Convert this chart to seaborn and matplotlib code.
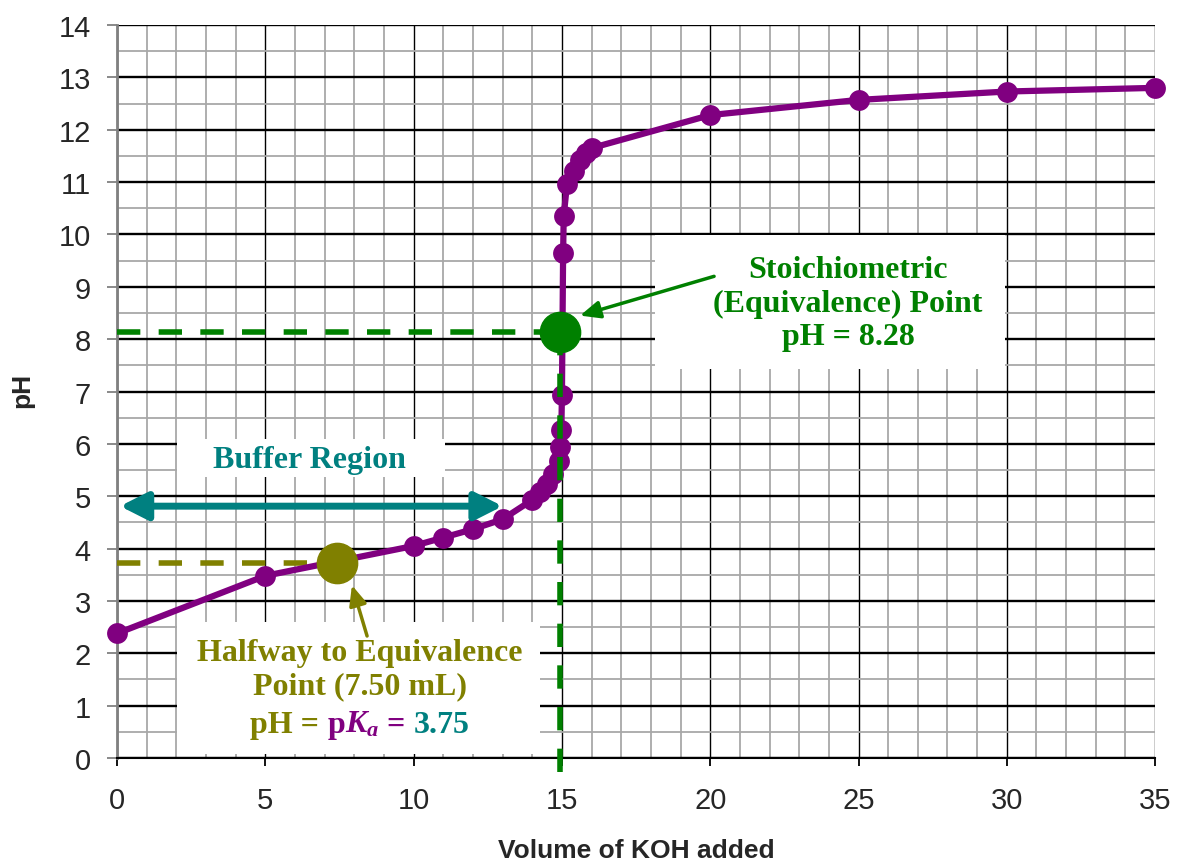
import numpy as np
import pandas as pd
import seaborn as sns
import matplotlib.pyplot as plt
from matplotlib.patches import Rectangle
from matplotlib.offsetbox import TextArea, HPacker, AnnotationBbox

# titration data
volume = [0, 5, 10, 11, 12, 13, 14.0, 14.25, 14.5, 14.7, 14.9, 14.95, 14.98, 15.0,
          15.04, 15.06, 15.17, 15.4, 15.6, 15.8, 16.0, 20, 25, 30, 35]
ph = [2.38, 3.48, 4.05, 4.21, 4.37, 4.56, 4.93, 5.08, 5.23, 5.42, 5.67, 5.94, 6.26, 6.94,
      9.65, 10.35, 10.96, 11.22, 11.42, 11.55, 11.65, 12.28, 12.57, 12.73, 12.80]

equiv_vol, equiv_ph = 14.94, 8.13
half_vol, half_ph = 7.42, 3.73
buffer_span = [0.1, 13.0]
buffer_ph = 4.81

purple = '#800080'
green = '#008000'
olive = '#808000'
teal = '#008080'

sns.set_style('white')
plt.rcParams['font.family'] = ['Liberation Sans', 'DejaVu Sans']
plt.rcParams['mathtext.fontset'] = 'custom'
plt.rcParams['mathtext.it'] = 'Liberation Serif:italic:bold'
plt.rcParams['mathtext.rm'] = 'Liberation Serif:bold'

fig = plt.figure(figsize=(11.8, 8.62), dpi=100)
ax = fig.add_axes([0.0992, 0.1195, 0.8797, 0.8503])

df = pd.DataFrame({'vol': volume, 'ph': ph})
sns.lineplot(data=df, x='vol', y='ph', sort=False, color=purple, lw=4.5,
             marker='o', markersize=15, markeredgewidth=0, clip_on=False,
             zorder=4, ax=ax)

# guide lines to the special points
dash = (4.2, 3.3)
ax.plot([0, equiv_vol], [equiv_ph, equiv_ph], color=green, lw=4, dashes=dash, zorder=5)
ax.plot([equiv_vol, equiv_vol], [equiv_ph, -0.36], color=green, lw=4, dashes=dash,
        zorder=5, clip_on=False)
ax.plot([0, half_vol], [half_ph, half_ph], color=olive, lw=4, dashes=dash, zorder=3)
ax.plot([equiv_vol], [equiv_ph], 'o', color=green, markersize=29, zorder=6)
ax.plot([half_vol], [half_ph], 'o', color=olive, markersize=29, zorder=6)

ax.set_xlim(0, 35)
ax.set_ylim(0, 14)
ax.set_xticks(np.arange(0, 36, 5))
ax.set_xticks(np.arange(0, 36, 1), minor=True)
ax.set_yticks(np.arange(0, 15, 1))
ax.set_yticks(np.arange(0, 14.5, 0.5), minor=True)
ax.grid(which='minor', color='#a8a8a8', lw=1.3)
ax.grid(which='major', axis='x', color='black', lw=1.0)
ax.grid(which='major', axis='y', color='black', lw=1.7)
ax.set_axisbelow(True)
for s in ['top', 'right']:
    ax.spines[s].set_visible(False)
ax.spines['left'].set_color('#808080')
ax.spines['left'].set_linewidth(2)
ax.spines['bottom'].set_color('black')
ax.spines['bottom'].set_linewidth(1.5)
ax.tick_params(axis='y', which='major', length=7, width=1.3, color='#808080',
               labelsize=21, pad=12, left=True)
ax.tick_params(axis='x', which='major', length=6, width=1.3, color='black',
               labelsize=21, pad=14, bottom=True)
ax.tick_params(which='minor', length=0)

ax.set_xlabel('Volume of KOH added', fontsize=19, fontweight='bold')
ax.set_ylabel('pH', fontsize=19, fontweight='bold')
ax.xaxis.label.set_va('center')
ax.yaxis.label.set_va('center')
ax.xaxis.set_label_coords(0.5, -0.1255)
ax.yaxis.set_label_coords(-0.091, 0.503)

serif = 'Liberation Serif'
fs = 23

# white label boxes
ax.add_patch(Rectangle((18.14, 7.43), 11.8, 2.55, fc='white', ec='none', zorder=2))
ax.add_patch(Rectangle((2.03, 0.08), 12.23, 2.52, fc='white', ec='none', zorder=2))
ax.add_patch(Rectangle((2.02, 5.37), 9.04, 0.72, fc='white', ec='none', zorder=2))

ax.text(24.65, 8.69, 'Stoichiometric\n(Equivalence) Point\npH = 8.28', color=green,
        family=serif, fontweight='bold', fontsize=fs, ha='center', va='center',
        linespacing=1.22, zorder=7)
ax.text(6.5, 5.71, 'Buffer Region', color=teal, family=serif, fontweight='bold',
        fontsize=fs, ha='center', va='center', zorder=7)
ax.text(8.19, 1.70, 'Halfway to Equivalence\nPoint (7.50 mL)', color=olive,
        family=serif, fontweight='bold', fontsize=fs, ha='center', va='center',
        linespacing=1.22, zorder=7)


def piece(s, c):
    return TextArea(s, textprops=dict(color=c, family=serif, fontweight='bold',
                                      fontsize=fs))


line3 = HPacker(children=[piece('pH = ', olive), piece('p', purple),
                          piece(r'$K_a$', purple), piece(' = ', purple),
                          piece('3.75', teal)],
                align='baseline', pad=0, sep=0)
ab = AnnotationBbox(line3, (8.19, 0.65), xycoords='data', frameon=False,
                    box_alignment=(0.5, 0.5), zorder=7)
ax.add_artist(ab)

# arrows
ax.annotate('', xy=(buffer_span[0], buffer_ph), xytext=(buffer_span[1], buffer_ph),
            arrowprops=dict(arrowstyle='<|-|>,head_length=0.83,head_width=0.42',
                            color=teal, lw=5, mutation_scale=20, shrinkA=0, shrinkB=0),
            zorder=7)
ax.annotate('', xy=(15.61, 8.45), xytext=(20.13, 9.2),
            arrowprops=dict(arrowstyle='-|>,head_length=0.8,head_width=0.35',
                            color=green, lw=2.5, mutation_scale=15, shrinkA=0, shrinkB=0),
            zorder=8)
ax.annotate('', xy=(7.92, 3.30), xytext=(8.43, 2.33),
            arrowprops=dict(arrowstyle='-|>,head_length=0.8,head_width=0.35',
                            color=olive, lw=2.5, mutation_scale=15, shrinkA=0, shrinkB=0),
            zorder=8)

fig.savefig('out.png', dpi=100)
